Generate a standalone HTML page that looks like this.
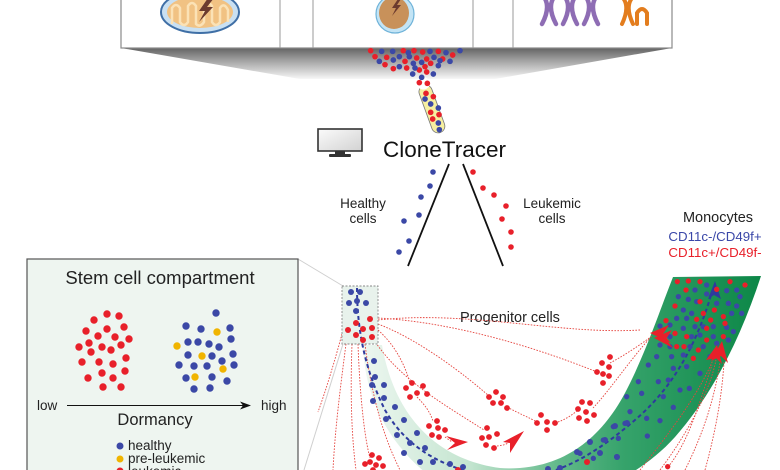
<!DOCTYPE html>
<html><head><meta charset="utf-8"><style>
html,body{margin:0;padding:0;background:#fff;}
svg{display:block;}
text{font-family:"Liberation Sans",Arial,sans-serif;}
</style></head><body>
<svg width="780" height="470" viewBox="0 0 780 470" xmlns="http://www.w3.org/2000/svg">
<defs>
<linearGradient id="trap" x1="0" y1="48" x2="0" y2="79" gradientUnits="userSpaceOnUse"><stop offset="0" stop-color="#636363"/><stop offset="0.35" stop-color="#9a9a9a"/><stop offset="1" stop-color="#f7f7f7"/></linearGradient>
<linearGradient id="band" x1="360" y1="0" x2="765" y2="0" gradientUnits="userSpaceOnUse"><stop offset="0" stop-color="#eef7f1"/><stop offset="0.27" stop-color="#c4e5d0"/><stop offset="0.49" stop-color="#62b98a"/><stop offset="0.65" stop-color="#36a36b"/><stop offset="1" stop-color="#0b8646"/></linearGradient>
<linearGradient id="mon" x1="0" y1="0" x2="1" y2="1"><stop offset="0" stop-color="#fbfbfb"/><stop offset="1" stop-color="#d2d2d2"/></linearGradient>
</defs>
<rect width="780" height="470" fill="#fff"/>

<!-- top box -->
<polygon points="121,48 672,48 495,79 300,79" fill="url(#trap)"/>
<rect x="121" y="-2" width="551" height="50" fill="#fff" stroke="#8a8a8a" stroke-width="1.2"/>
<line x1="280" y1="0" x2="280" y2="48" stroke="#999" stroke-width="1"/>
<line x1="313" y1="0" x2="313" y2="48" stroke="#999" stroke-width="1"/>
<line x1="473" y1="0" x2="473" y2="48" stroke="#999" stroke-width="1"/>
<line x1="513" y1="0" x2="513" y2="48" stroke="#999" stroke-width="1"/>

<!-- mitochondrion -->
<ellipse cx="200" cy="12" rx="39" ry="21" fill="#c9e0f2" stroke="#3f6fa6" stroke-width="2"/>
<ellipse cx="200" cy="12" rx="33" ry="16" fill="#f1c283"/>
<path d="M172,24 L172,8 Q176,2 180,8 L180,22 Q184,28 188,22 L188,6 Q192,0 196,6 L196,24 Q200,28 204,22 L204,6 Q208,0 212,6 L212,22 Q216,28 220,22 L220,8 Q224,2 228,10 L228,22" fill="none" stroke="#fbe2b6" stroke-width="2.5"/>
<polygon points="208,-2 199,11 205,11 199,22 213,7 207,7 214,-2" fill="#6b3a2e"/>

<!-- cell with nucleus -->
<ellipse cx="395" cy="14" rx="19" ry="19" fill="#c3e4f5" stroke="#6fb3d9" stroke-width="1.2"/>
<ellipse cx="394" cy="13" rx="15" ry="16" fill="#c8915a"/>
<polygon points="398,-1 392,8 396,8 392,16 401,5 397,5 401,-1" fill="#6b3a2e"/>

<!-- chromosomes -->
<g fill="none" stroke="#8e6db4" stroke-width="4.5" stroke-linecap="round">
<path d="M544,-3 Q551,7 542,24"/><path d="M554,-3 Q547,7 556,24"/>
<path d="M565,-3 Q572,7 563,24"/><path d="M575,-3 Q568,7 577,24"/>
<path d="M586,-3 Q593,7 584,24"/><path d="M596,-3 Q589,7 598,24"/>
</g>
<g fill="none" stroke="#e37d1e" stroke-width="4" stroke-linecap="round">
<path d="M623,-2 Q630,7 622,24"/><path d="M632,-2 Q625,7 633,24"/>
<path d="M637,24 L637,13 Q642,5 647,13 L647,24"/>
</g>

<!-- dot cluster + tube (zoom coords) -->
<g transform="translate(360,44) scale(0.33333)">
<g transform="rotate(-20 215 193)"><rect x="195" y="120" width="40" height="150" rx="20" fill="#f6efa0" stroke="#7a7a7a" stroke-width="2.5"/></g>
<circle cx="190" cy="118" r="19" fill="#fff"/>
<g fill="#e8202a">
<circle cx="32" cy="20" r="8.5"/><circle cx="130" cy="20" r="8.5"/><circle cx="162" cy="20" r="8.5"/><circle cx="188" cy="24" r="8.5"/><circle cx="235" cy="22" r="8.5"/>
<circle cx="45" cy="38" r="8.5"/><circle cx="80" cy="40" r="8.5"/><circle cx="170" cy="42" r="8.5"/><circle cx="200" cy="45" r="8.5"/><circle cx="248" cy="45" r="8.5"/><circle cx="278" cy="33" r="8.5"/>
<circle cx="135" cy="52" r="8.5"/><circle cx="212" cy="58" r="8.5"/>
<circle cx="75" cy="62" r="8.5"/><circle cx="140" cy="72" r="8.5"/><circle cx="195" cy="68" r="8.5"/>
<circle cx="100" cy="74" r="8.5"/><circle cx="178" cy="78" r="8.5"/><circle cx="200" cy="84" r="8.5"/>
<circle cx="178" cy="116" r="8.5"/><circle cx="202" cy="118" r="8.5"/>
<circle cx="198" cy="148" r="8.5"/><circle cx="220" cy="158" r="8.5"/><circle cx="212" cy="205" r="8.5"/><circle cx="237" cy="212" r="8.5"/><circle cx="218" cy="225" r="8.5"/>
</g>
<g fill="#3b48a6">
<circle cx="65" cy="22" r="8.5"/><circle cx="98" cy="22" r="8.5"/><circle cx="145" cy="26" r="8.5"/><circle cx="210" cy="22" r="8.5"/><circle cx="300" cy="20" r="8.5"/><circle cx="258" cy="26" r="8.5"/>
<circle cx="118" cy="38" r="8.5"/><circle cx="148" cy="38" r="8.5"/><circle cx="222" cy="40" r="8.5"/>
<circle cx="58" cy="52" r="8.5"/><circle cx="100" cy="48" r="8.5"/><circle cx="160" cy="58" r="8.5"/><circle cx="185" cy="55" r="8.5"/><circle cx="240" cy="50" r="8.5"/><circle cx="270" cy="52" r="8.5"/>
<circle cx="118" cy="68" r="8.5"/><circle cx="165" cy="72" r="8.5"/><circle cx="235" cy="65" r="8.5"/>
<circle cx="158" cy="90" r="8.5"/><circle cx="220" cy="90" r="8.5"/><circle cx="185" cy="100" r="8.5"/>
<circle cx="195" cy="165" r="8.5"/><circle cx="212" cy="180" r="8.5"/><circle cx="235" cy="192" r="8.5"/><circle cx="235" cy="237" r="8.5"/><circle cx="238" cy="257" r="8.5"/>
</g>
</g>

<!-- monitor -->
<rect x="318" y="129" width="44" height="22" fill="url(#mon)" stroke="#333" stroke-width="1.6"/>
<rect x="335" y="151" width="10" height="3" fill="#333"/>
<rect x="329" y="154" width="22" height="3" rx="1" fill="#333"/>

<text x="383" y="157" font-size="22.5" fill="#111">CloneTracer</text>

<!-- V lines -->
<line x1="449" y1="164" x2="408" y2="266" stroke="#111" stroke-width="1.8"/>
<line x1="463" y1="164" x2="503" y2="266" stroke="#111" stroke-width="1.8"/>
<g fill="#3b48a6">
<circle cx="433" cy="172" r="2.8"/><circle cx="430" cy="186" r="2.8"/><circle cx="421" cy="197" r="2.8"/><circle cx="419" cy="215" r="2.8"/><circle cx="404" cy="221" r="2.8"/><circle cx="409" cy="241" r="2.8"/><circle cx="399" cy="252" r="2.8"/>
</g>
<g fill="#e8202a">
<circle cx="473" cy="172" r="2.8"/><circle cx="483" cy="188" r="2.8"/><circle cx="494" cy="195" r="2.8"/><circle cx="506" cy="206" r="2.8"/><circle cx="502" cy="219" r="2.8"/><circle cx="511" cy="232" r="2.8"/><circle cx="511" cy="247" r="2.8"/>
</g>
<g font-size="13.5" fill="#222" text-anchor="middle">
<text x="363" y="208">Healthy</text><text x="363" y="223">cells</text>
<text x="552" y="208">Leukemic</text><text x="552" y="223">cells</text>
</g>
<text x="718" y="222" font-size="14.5" fill="#222" text-anchor="middle">Monocytes</text>
<text x="715" y="241" font-size="13.3" fill="#3a47a8" text-anchor="middle">CD11c-/CD49f+</text>
<text x="715" y="257" font-size="13.3" fill="#e8202a" text-anchor="middle">CD11c+/CD49f-</text>
<text x="460" y="322" font-size="14.5" fill="#222">Progenitor cells</text>

<!-- zoom guide lines -->
<line x1="298" y1="259" x2="343" y2="286" stroke="#cfcfcf" stroke-width="1"/>
<line x1="343" y1="344" x2="304" y2="470" stroke="#cfcfcf" stroke-width="1"/>

<!-- green band -->
<path d="M363,345 L382,345 C395,420 440,460 500,468 C560,472 600,440 625,393 C645,355 660,310 673,277 L761,276 C740,340 712,395 675,437 C650,465 620,480 600,490 L450,490 C400,460 365,410 363,345 Z" fill="url(#band)"/>

<!-- red dotted lines -->
<g fill="none" stroke="#e5453f" stroke-width="0.9" stroke-dasharray="1.6 1.4">
<path d="M378,318 C450,322 530,345 597,372"/>
<path d="M610,363 C625,355 640,345 652,336"/>
<path d="M378,324 C420,340 465,375 489,396"/>
<path d="M507,407 C520,414 530,418 537,422"/>
<path d="M555,423 C565,420 572,415 578,410"/>
<path d="M593,408 C610,390 630,360 650,338"/>
<path d="M378,330 C395,345 405,365 410,383"/>
<path d="M417,397 C425,405 430,412 433,421"/>
<path d="M445,437 L452,442"/>
<path d="M374,340 C400,380 445,405 484,430"/>
<path d="M494,446 C500,446 505,445 508,443"/>
<path d="M346,344 C340,390 335,430 333,470"/>
<path d="M352,344 C350,400 352,440 356,470"/>
<path d="M358,344 C360,400 365,440 370,458"/>
<path d="M365,344 C372,400 385,440 400,470"/>
<path d="M342,334 C335,360 326,390 318,412"/>
<path d="M378,320 C470,310 560,335 640,330"/>
<path d="M640,470 C680,420 700,390 713,360"/>
<path d="M660,470 C690,430 710,390 716,360"/>
<path d="M685,470 C705,430 715,395 720,362"/>
<path d="M705,470 C716,430 722,395 724,362"/>
<path d="M668,467 C690,440 700,400 712,365"/>
</g>

<!-- stem box small -->
<rect x="342" y="286" width="36" height="58" fill="#e8f2ec" stroke="#888" stroke-width="0.9" stroke-dasharray="2 1.5"/>

<!-- blue dashed path -->
<path d="M357,288 C357,330 365,370 385,410 C405,445 440,470 500,478 C555,482 600,450 635,420 C670,390 695,350 712,292" fill="none" stroke="#2e3a9e" stroke-width="2" stroke-dasharray="4 3"/>
<polygon points="715,281 708,299 714,295 721,299" fill="#2e3a9e"/>

<!-- small box dots -->
<g fill="#3b48a6">
<circle cx="351" cy="292" r="3"/><circle cx="360" cy="292" r="3"/><circle cx="349" cy="303" r="3"/><circle cx="357" cy="301" r="3"/><circle cx="366" cy="303" r="3"/><circle cx="356" cy="311" r="3"/>
</g>
<g fill="#e8202a">
<circle cx="370" cy="319" r="3"/><circle cx="356" cy="323" r="3"/><circle cx="363" cy="329" r="3"/><circle cx="372" cy="328" r="3"/><circle cx="348" cy="330" r="3"/><circle cx="356" cy="335" r="3"/><circle cx="363" cy="340" r="3"/><circle cx="372" cy="337" r="3"/>
</g>

<!-- band blue dots lower-left -->
<g fill="#3b48a6">
<circle cx="374" cy="361" r="3"/><circle cx="375" cy="377" r="3"/><circle cx="372" cy="385" r="3"/><circle cx="384" cy="385" r="3"/><circle cx="373" cy="401" r="3"/><circle cx="384" cy="398" r="3"/><circle cx="395" cy="407" r="3"/><circle cx="386" cy="419" r="3"/><circle cx="404" cy="420" r="3"/><circle cx="397" cy="435" r="3"/><circle cx="417" cy="433" r="3"/><circle cx="410" cy="443" r="3"/><circle cx="404" cy="453" r="3"/><circle cx="425" cy="448" r="3"/><circle cx="420" cy="462" r="3"/><circle cx="433" cy="462" r="3"/><circle cx="450" cy="464" r="3"/><circle cx="463" cy="467" r="3"/>
<circle cx="615" cy="426" r="3"/><circle cx="627" cy="423" r="3"/><circle cx="590" cy="442" r="3"/><circle cx="605" cy="440" r="3"/><circle cx="577" cy="452" r="3"/><circle cx="617" cy="457" r="3"/><circle cx="600" cy="453" r="3"/><circle cx="560" cy="468" r="3"/><circle cx="548" cy="469" r="3"/>
</g>
<circle cx="587" cy="462" r="3" fill="#e8202a"/>
<circle cx="458" cy="470" r="3" fill="#e8202a"/>

<!-- red clusters -->
<g fill="#e8202a">
<circle cx="412" cy="383" r="2.9"/><circle cx="423" cy="386" r="2.9"/><circle cx="406" cy="388" r="2.9"/><circle cx="417" cy="393" r="2.9"/><circle cx="427" cy="394" r="2.9"/><circle cx="410" cy="397" r="2.9"/>
<circle cx="437" cy="421" r="2.9"/><circle cx="429" cy="426" r="2.9"/><circle cx="438" cy="428" r="2.9"/><circle cx="445" cy="430" r="2.9"/><circle cx="432" cy="435" r="2.9"/><circle cx="439" cy="437" r="2.9"/>
<circle cx="496" cy="392" r="2.9"/><circle cx="489" cy="397" r="2.9"/><circle cx="503" cy="397" r="2.9"/><circle cx="493" cy="403" r="2.9"/><circle cx="501" cy="403" r="2.9"/><circle cx="507" cy="408" r="2.9"/>
<circle cx="487" cy="428" r="2.9"/><circle cx="482" cy="438" r="2.9"/><circle cx="489" cy="437" r="2.9"/><circle cx="497" cy="434" r="2.9"/><circle cx="486" cy="445" r="2.9"/><circle cx="494" cy="448" r="2.9"/>
<circle cx="541" cy="415" r="2.9"/><circle cx="537" cy="423" r="2.9"/><circle cx="547" cy="422" r="2.9"/><circle cx="555" cy="423" r="2.9"/><circle cx="547" cy="430" r="2.9"/>
<circle cx="610" cy="357" r="2.9"/><circle cx="602" cy="363" r="2.9"/><circle cx="609" cy="367" r="2.9"/><circle cx="597" cy="372" r="2.9"/><circle cx="603" cy="374" r="2.9"/><circle cx="609" cy="376" r="2.9"/><circle cx="603" cy="383" r="2.9"/>
<circle cx="582" cy="402" r="2.9"/><circle cx="590" cy="403" r="2.9"/><circle cx="578" cy="409" r="2.9"/><circle cx="586" cy="412" r="2.9"/><circle cx="594" cy="415" r="2.9"/><circle cx="579" cy="418" r="2.9"/><circle cx="587" cy="421" r="2.9"/>
<circle cx="372" cy="455" r="2.9"/><circle cx="379" cy="458" r="2.9"/><circle cx="370" cy="462" r="2.9"/><circle cx="376" cy="465" r="2.9"/><circle cx="365" cy="464" r="2.9"/><circle cx="383" cy="466" r="2.9"/><circle cx="373" cy="470" r="2.9"/>
</g>

<!-- monocyte dots (zoom coords) -->
<g transform="translate(560,200) scale(0.33333)">
<g fill="#3b48a6">
<circle cx="405" cy="270" r="8"/><circle cx="440" cy="255" r="8"/><circle cx="530" cy="270" r="8"/><circle cx="500" cy="272" r="8"/><circle cx="355" cy="290" r="8"/><circle cx="385" cy="298" r="8"/><circle cx="440" cy="282" r="8"/><circle cx="540" cy="290" r="8"/><circle cx="410" cy="305" r="8"/><circle cx="505" cy="310" r="8"/><circle cx="530" cy="318" r="8"/><circle cx="370" cy="330" r="8"/><circle cx="395" cy="340" r="8"/><circle cx="350" cy="355" r="8"/><circle cx="380" cy="355" r="8"/><circle cx="470" cy="310" r="8"/><circle cx="545" cy="340" r="8"/><circle cx="515" cy="340" r="8"/><circle cx="300" cy="378" r="8"/><circle cx="330" cy="375" r="8"/><circle cx="370" cy="385" r="8"/><circle cx="405" cy="380" r="8"/><circle cx="430" cy="380" r="8"/><circle cx="460" cy="380" r="8"/><circle cx="500" cy="382" r="8"/><circle cx="330" cy="410" r="8"/><circle cx="395" cy="410" r="8"/><circle cx="420" cy="405" r="8"/><circle cx="460" cy="410" r="8"/><circle cx="520" cy="395" r="8"/><circle cx="505" cy="420" r="8"/><circle cx="300" cy="435" r="8"/><circle cx="330" cy="440" r="8"/><circle cx="390" cy="440" r="8"/><circle cx="430" cy="440" r="8"/><circle cx="470" cy="430" r="8"/><circle cx="290" cy="470" r="8"/><circle cx="335" cy="470" r="8"/><circle cx="370" cy="465" r="8"/><circle cx="450" cy="470" r="8"/><circle cx="265" cy="495" r="8"/><circle cx="340" cy="505" r="8"/><circle cx="380" cy="500" r="8"/><circle cx="420" cy="520" r="8"/><circle cx="235" cy="545" r="8"/><circle cx="295" cy="545" r="8"/><circle cx="325" cy="540" r="8"/><circle cx="360" cy="570" r="8"/><circle cx="388" cy="565" r="8"/><circle cx="200" cy="590" r="8"/><circle cx="245" cy="580" r="8"/><circle cx="310" cy="590" r="8"/><circle cx="340" cy="622" r="8"/><circle cx="210" cy="635" r="8"/><circle cx="260" cy="655" r="8"/><circle cx="300" cy="662" r="8"/><circle cx="160" cy="680" r="8"/><circle cx="195" cy="670" r="8"/><circle cx="90" cy="725" r="8"/><circle cx="130" cy="720" r="8"/><circle cx="175" cy="715" r="8"/><circle cx="60" cy="760" r="8"/><circle cx="100" cy="775" r="8"/><circle cx="170" cy="770" r="8"/><circle cx="262" cy="708" r="8"/>
</g>
<g fill="#e8202a">
<circle cx="352" cy="245" r="8"/><circle cx="385" cy="243" r="8"/><circle cx="420" cy="245" r="8"/><circle cx="510" cy="245" r="8"/><circle cx="555" cy="255" r="8"/><circle cx="378" cy="270" r="8"/><circle cx="470" cy="268" r="8"/><circle cx="345" cy="318" r="8"/><circle cx="420" cy="305" r="8"/><circle cx="318" cy="362" r="8"/><circle cx="430" cy="340" r="8"/><circle cx="463" cy="330" r="8"/><circle cx="410" cy="358" r="8"/><circle cx="452" cy="360" r="8"/><circle cx="490" cy="350" r="8"/><circle cx="345" cy="400" r="8"/><circle cx="380" cy="410" r="8"/><circle cx="440" cy="385" r="8"/><circle cx="495" cy="370" r="8"/><circle cx="310" cy="415" r="8"/><circle cx="350" cy="440" r="8"/><circle cx="372" cy="440" r="8"/><circle cx="440" cy="420" r="8"/><circle cx="490" cy="410" r="8"/><circle cx="400" cy="475" r="8"/><circle cx="463" cy="465" r="8"/><circle cx="415" cy="450" r="8"/><circle cx="323" cy="800" r="8"/>
</g>
</g>

<!-- red arrowheads -->
<g fill="#e8202a">
<polygon points="468,442 446,436 455,443 447,450"/>
<polygon points="524,431 503,442 510,443 510,453"/>
<polygon points="650,333 669,325 663,334 671,343"/>
<polygon points="654,338 672,330 666,339 673,348"/>
<polygon points="722,341 728,363 721,356 711,361"/>
<polygon points="717,345 722,364 716,358 706,360"/>
</g>

<!-- stem cell compartment box -->
<rect x="27" y="259" width="271" height="220" fill="#eef5f0" stroke="#555" stroke-width="1.2"/>
<text x="160" y="284" font-size="18.5" fill="#222" text-anchor="middle">Stem cell compartment</text>
<g fill="#e8202a">
<circle cx="107" cy="314" r="3.7"/><circle cx="119" cy="316" r="3.7"/><circle cx="94" cy="320" r="3.7"/><circle cx="124" cy="327" r="3.7"/><circle cx="107" cy="329" r="3.7"/><circle cx="86" cy="331" r="3.7"/><circle cx="98" cy="336" r="3.7"/><circle cx="115" cy="337" r="3.7"/><circle cx="129" cy="339" r="3.7"/><circle cx="89" cy="343" r="3.7"/><circle cx="121" cy="345" r="3.7"/><circle cx="79" cy="347" r="3.7"/><circle cx="102" cy="347" r="3.7"/><circle cx="111" cy="350" r="3.7"/><circle cx="91" cy="352" r="3.7"/><circle cx="126" cy="358" r="3.7"/><circle cx="82" cy="362" r="3.7"/><circle cx="99" cy="362" r="3.7"/><circle cx="113" cy="364" r="3.7"/><circle cx="102" cy="373" r="3.7"/><circle cx="125" cy="371" r="3.7"/><circle cx="88" cy="378" r="3.7"/><circle cx="113" cy="378" r="3.7"/><circle cx="103" cy="387" r="3.7"/><circle cx="121" cy="387" r="3.7"/>
</g>
<g fill="#3b48a6">
<circle cx="216" cy="313" r="3.7"/><circle cx="186" cy="326" r="3.7"/><circle cx="201" cy="329" r="3.7"/><circle cx="230" cy="328" r="3.7"/><circle cx="188" cy="342" r="3.7"/><circle cx="198" cy="342" r="3.7"/><circle cx="209" cy="344" r="3.7"/><circle cx="231" cy="339" r="3.7"/><circle cx="219" cy="347" r="3.7"/><circle cx="188" cy="355" r="3.7"/><circle cx="212" cy="356" r="3.7"/><circle cx="233" cy="354" r="3.7"/><circle cx="222" cy="361" r="3.7"/><circle cx="179" cy="365" r="3.7"/><circle cx="194" cy="366" r="3.7"/><circle cx="207" cy="366" r="3.7"/><circle cx="234" cy="365" r="3.7"/><circle cx="186" cy="378" r="3.7"/><circle cx="212" cy="377" r="3.7"/><circle cx="227" cy="381" r="3.7"/><circle cx="194" cy="389" r="3.7"/><circle cx="210" cy="388" r="3.7"/>
</g>
<g fill="#f0b400">
<circle cx="217" cy="332" r="3.7"/><circle cx="177" cy="346" r="3.7"/><circle cx="202" cy="356" r="3.7"/><circle cx="223" cy="369" r="3.7"/><circle cx="195" cy="377" r="3.7"/>
</g>
<text x="37" y="410" font-size="13.5" fill="#222">low</text>
<line x1="67" y1="405.5" x2="243" y2="405.5" stroke="#111" stroke-width="1.1"/>
<polygon points="251,405.5 240,401.5 243,405.5 240,409.5" fill="#111"/>
<text x="261" y="410" font-size="13.5" fill="#222">high</text>
<text x="155" y="425" font-size="16.5" fill="#222" text-anchor="middle">Dormancy</text>
<circle cx="120" cy="446" r="3.5" fill="#3b48a6"/>
<text x="128" y="450" font-size="13.5" fill="#222">healthy</text>
<circle cx="120" cy="459" r="3.5" fill="#f0b400"/>
<text x="128" y="463" font-size="13.5" fill="#222">pre-leukemic</text>
<circle cx="120" cy="471" r="3.5" fill="#e8202a"/>
<text x="128" y="476" font-size="13.5" fill="#222">leukemic</text>
</svg>
</body></html>
